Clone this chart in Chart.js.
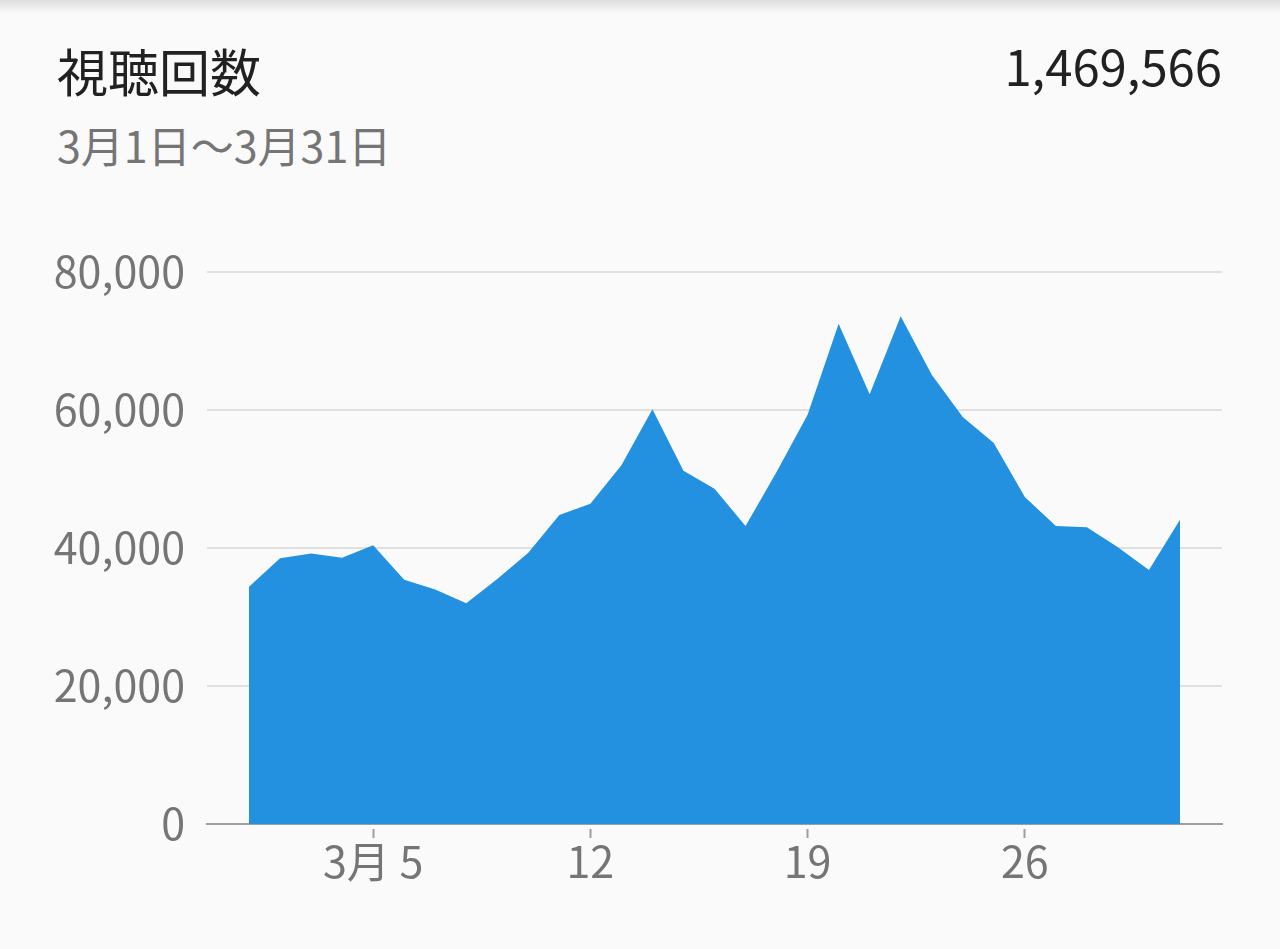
<!DOCTYPE html>
<html lang="ja">
<head>
<meta charset="utf-8">
<title>視聴回数</title>
<script src="https://cdn.jsdelivr.net/npm/chart.js@4.4.1/dist/chart.umd.min.js"></script>
<style>
  html, body { margin: 0; padding: 0; }
  body {
    width: 1280px; height: 949px; overflow: hidden; position: relative;
    background: #fafafa;
    font-family: "Noto Sans CJK JP", "Noto Sans", sans-serif;
  }
  .shade {
    position: absolute; left: 0; top: 0; width: 1280px; height: 14px;
    background: linear-gradient(#dedede, #fafafa);
  }
  .title {
    position: absolute; left: 57px; top: 45px;
    font-size: 51px; line-height: 1; color: #212121;
  }
  .range {
    position: absolute; left: 57px; top: 123px;
    font-size: 43px; line-height: 1; color: #757575;
  }
  .total {
    position: absolute; right: 58px; top: 40px;
    font-size: 49px; line-height: 1; color: #212121;
  }
  #wrap { position: absolute; left: 0; top: 200px; width: 1280px; height: 749px; }
</style>
</head>
<body>
<div class="shade"></div>
<div class="title">視聴回数</div>
<div class="range">3月1日～3月31日</div>
<div class="total">1,469,566</div>
<div id="wrap"><canvas id="chart"></canvas></div>

<script>
// daily views, 3/1 .. 3/31
const days = [1, 2, 3, 4, 5, 6, 7, 8, 9, 10, 11, 12, 13, 14, 15, 16,
  17, 18, 19, 20, 21, 22, 23, 24, 25, 26, 27, 28, 29, 30, 31];
const views = [34400, 38500, 39200, 38600, 40400, 35400, 34000, 32000, 35500, 39300,
  44800, 46400, 52000, 60100, 51200, 48600, 43200, 51000, 59300, 72500,
  62300, 73600, 65100, 59000, 55200, 47400, 43200, 43000, 40100, 36800, 44100];
const tickDays = [5, 12, 19, 26];
const tickLabels = ["3月 5", "12", "19", "26"];
const yTicks = [0, 20000, 40000, 60000, 80000];

const tickFont = { family: "'Noto Sans CJK JP', sans-serif", size: 43 };
const fmtNum = (v) => v.toLocaleString("en-US");

new Chart(document.getElementById("chart"), {
  type: "line",
  data: {
    datasets: [{
      data: days.map((d, i) => ({ x: d, y: views[i] })),
      fill: "origin",
      backgroundColor: "#2391df",
      borderWidth: 0,
      pointRadius: 0,
      tension: 0,
    }],
  },
  options: {
    animation: false,
    responsive: true,
    maintainAspectRatio: false,
    events: [],
    layout: { padding: { top: 72, right: 58, left: 0, bottom: 0 } },
    plugins: { legend: { display: false }, tooltip: { enabled: false } },
    scales: {
      x: {
        type: "linear",
        min: -0.354,
        max: 32.354,
        afterBuildTicks: (s) => { s.ticks = tickDays.map((v) => ({ value: v })); },
        afterFit: (s) => { s.height = 125; },
        border: { display: true, color: "#9e9e9e", width: 2 },
        grid: {
          drawOnChartArea: false,
          drawTicks: true,
          tickLength: 14,
          tickWidth: 2,
          tickColor: "#9e9e9e",
          tickBorderDash: [0, 4, 10, 100],
        },
        ticks: {
          autoSkip: false,
          maxRotation: 0,
          padding: -2,
          color: "#757575",
          font: tickFont,
          callback: (v) => tickLabels[tickDays.indexOf(v)] ?? "",
        },
      },
      y: {
        min: 0,
        max: 80000,
        afterBuildTicks: (s) => { s.ticks = yTicks.map((v) => ({ value: v })); },
        afterFit: (s) => { s.width = 207; },
        border: { display: false },
        grid: { color: "#e0e0e0", lineWidth: 2, drawTicks: false },
        ticks: { padding: 22, color: "#757575", font: tickFont, callback: fmtNum },
      },
    },
  },
});
</script>
</body>
</html>
